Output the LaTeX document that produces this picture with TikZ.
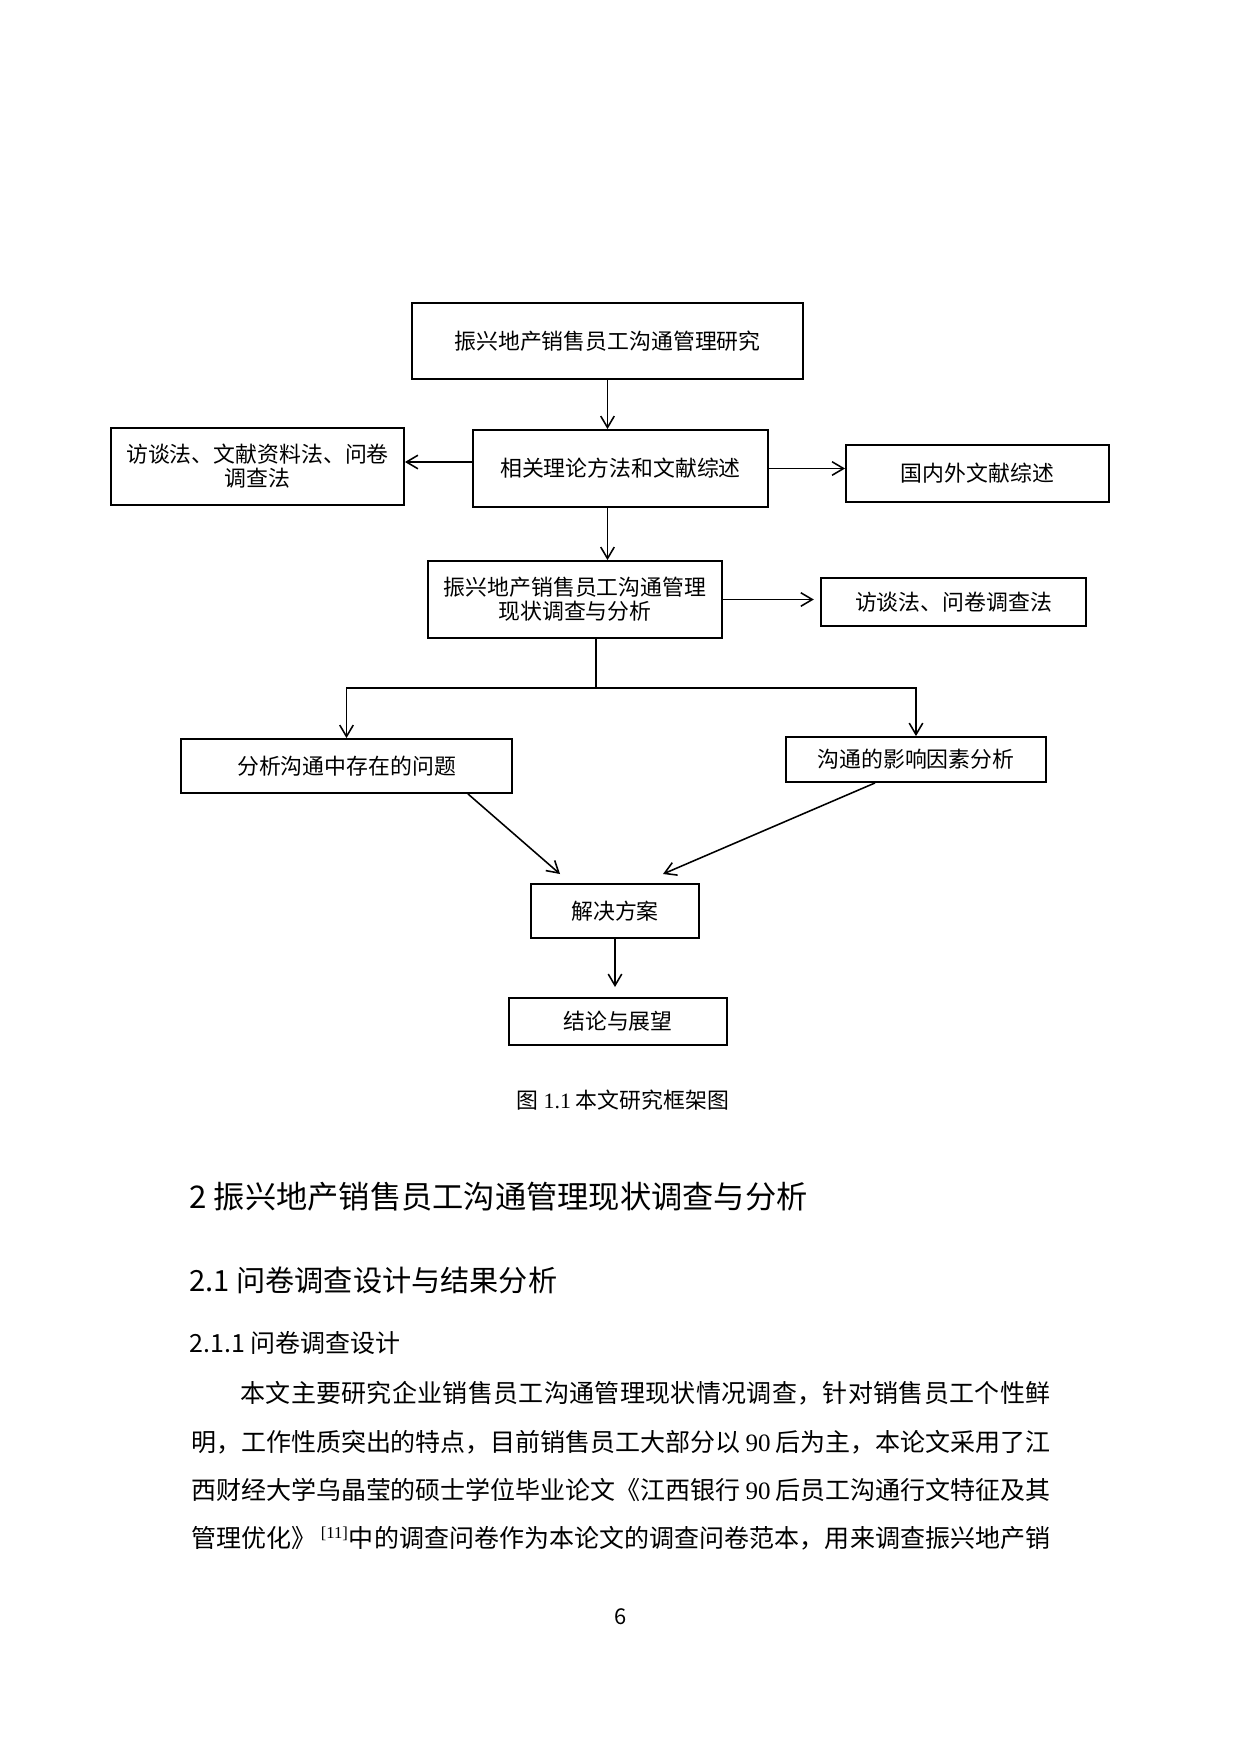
\documentclass[tikz,border=0pt]{standalone}
\usepackage{fontspec}
\setmainfont{Noto Sans CJK SC}
\newfontfamily\lat{Liberation Serif}
\usetikzlibrary{arrows.meta,calc}
\newXeTeXintercharclass\cjkc
\newcount\ccnt
\ccnt="4E00
\loop \XeTeXcharclass\ccnt=\cjkc \advance\ccnt by 1 \ifnum\ccnt<"A000 \repeat
\XeTeXcharclass"FF0C=\cjkc
\XeTeXcharclass"3001=\cjkc
\XeTeXcharclass"300A=\cjkc
\XeTeXcharclass"300B=\cjkc
\XeTeXinterchartoks\cjkc\cjkc={\hskip0pt plus 1pt minus 0.3pt\relax}
\newcommand\upx{0.48pt}
\newcommand\jline[1]{{\XeTeXinterchartokenstate=1 \makebox[412.3pt][s]{#1}}}
\tikzset{
  box/.style={draw, line width=0.9pt, rectangle, inner sep=0pt, align=center,
    font=\fontsize{10.5}{11.5}\selectfont},
  arr/.style={line width=0.75pt, -{Straight Barb[length=5.5pt,width=6.5pt,line width=0.75pt]}},
  ln/.style={line width=0.75pt},
  head/.style={anchor=west, inner sep=0pt},
  bodyline/.style={anchor=west, inner sep=0pt, font=\fontsize{12}{12}\selectfont},
}
\begin{document}
\begin{tikzpicture}[x=0.48pt, y=-0.48pt]
\fill[white] (0,0) rectangle (1240,1754);
\useasboundingbox (0,0) rectangle (1240,1754);

% boxes
\node[box, minimum width=391*\upx, minimum height=76*\upx] (top) at (607.5,341) {振兴地产销售员工沟通管理研究};
\node[box, minimum width=295*\upx, minimum height=77*\upx] (lit) at (620.5,468.5) {相关理论方法和文献综述};
\node[box, minimum width=293*\upx, minimum height=77*\upx] (meth) at (257.5,466.5) {访谈法、文献资料法、问卷\\调查法};
\node[box, minimum width=263*\upx, minimum height=57*\upx] (dom) at (977.5,473.5) {国内外文献综述};
\node[box, minimum width=294*\upx, minimum height=77*\upx] (stat) at (575,599.5) {振兴地产销售员工沟通管理\\现状调查与分析};
\node[box, minimum width=265*\upx, minimum height=48*\upx] (iv) at (953.5,602) {访谈法、问卷调查法};
\node[box, minimum width=331*\upx, minimum height=54*\upx] (prob) at (346.5,766) {分析沟通中存在的问题};
\node[box, minimum width=260*\upx, minimum height=45*\upx] (fact) at (916,759.5) {沟通的影响因素分析};
\node[box, minimum width=168*\upx, minimum height=54*\upx] (sol) at (615,911) {解决方案};
\node[box, minimum width=218*\upx, minimum height=47*\upx] (concl) at (618,1021.5) {结论与展望};

% helper coordinates
\coordinate (m) at (440,462);
\coordinate (j) at (596,688);
\coordinate (p1) at (468,793);
\coordinate (t1) at (560,874);
\coordinate (p2) at (875,782);
\coordinate (t2) at (663,874);
\coordinate (t3) at (614,987);

% connectors
\draw[arr] (top.south) -- (top.south |- lit.north);
\draw[arr] (lit.west |- m) -- (meth.east |- m);
\draw[arr] (lit.east) -- (lit.east -| dom.west);
\draw[arr] (lit.south -| top.south) -- (top.south |- stat.north);
\draw[arr, shorten >=3pt] (stat.east) -- (stat.east -| iv.west);
\draw[ln] (stat.south -| j) -- (j);
\draw[arr] (j) -- (prob.north |- j) -- (prob.north);
\draw[arr] (j) -- (fact.north |- j) -- (fact.north);
\draw[arr] (prob.south -| p1) -- (t1);
\draw[arr] (fact.south -| p2) -- (t2);
\draw[arr] (sol.south) -- (sol.south |- t3);

% caption
\node[inner sep=0pt, font=\fontsize{10.5}{12}\selectfont] (cap) at (623,1100) {图 {\lat 1.1} 本文研究框架图};

% headings
\node[head, font=\fontsize{15}{18}\selectfont] (h1) at (189,1197) {2 振兴地产销售员工沟通管理现状调查与分析};
\node[head, font=\fontsize{14}{17}\selectfont] (h2) at (189,1280) {2.1 问卷调查设计与结果分析};
\node[head, font=\fontsize{12}{14}\selectfont] (h3) at (189,1343) {2.1.1 问卷调查设计};

% body
\node[bodyline] (b1) at (191,1393) {\jline{\hspace*{23.5pt}本文主要研究企业销售员工沟通管理现状情况调查，针对销售员工个性鲜}};
\node[bodyline] (b2) at (191,1442) {\jline{明，工作性质突出的特点，目前销售员工大部分以 {\lat 90} 后为主，本论文采用了江}};
\node[bodyline] (b3) at (191,1490) {\jline{西财经大学乌晶莹的硕士学位毕业论文《江西银行 {\lat 90} 后员工沟通行文特征及其}};
\node[bodyline] (b4) at (191,1538) {\jline{管理优化》\,\textsuperscript{\lat [11]}中的调查问卷作为本论文的调查问卷范本，用来调查振兴地产销}};

% page number
\node[inner sep=0pt, font=\fontsize{10.5}{12}\selectfont] (pg) at (621,1617) {6};
\end{tikzpicture}
\end{document}
